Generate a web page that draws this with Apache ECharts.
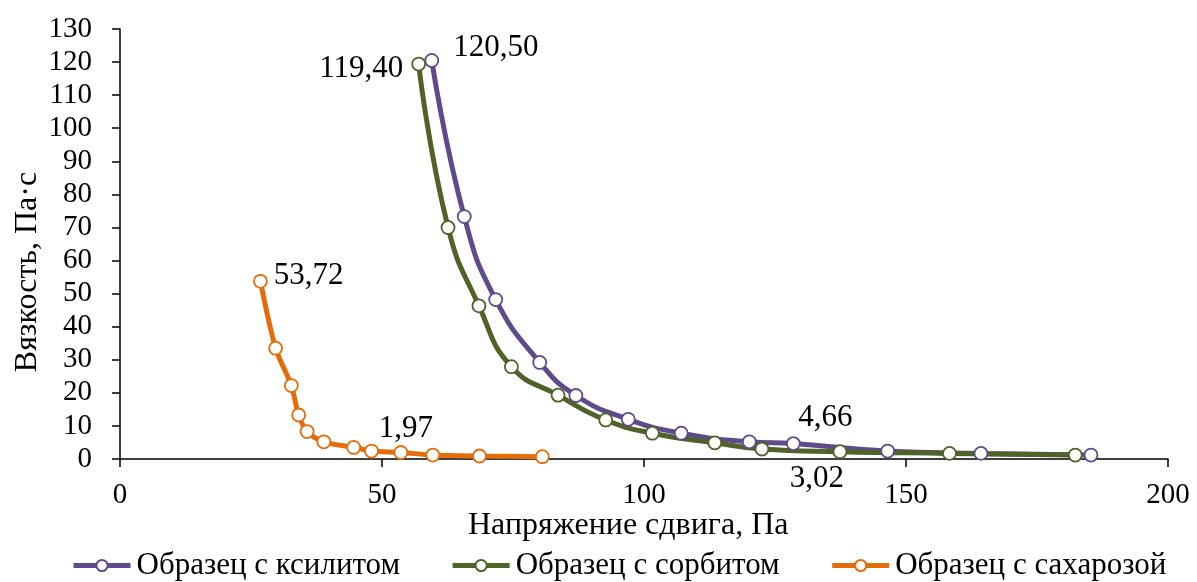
<!DOCTYPE html>
<html><head><meta charset="utf-8">
<script src="https://cdn.jsdelivr.net/npm/echarts@6/dist/echarts.min.js"></script>
<style>html,body{margin:0;padding:0;background:#fff}#c{width:1197px;height:582px}</style>
</head><body><div id="c"></div>
<script>
const seriesNames = ['Образец с ксилитом', 'Образец с сорбитом', 'Образец с сахарозой'];
const xyliX = [59.5, 65.7, 71.7, 80.1, 87.0, 97.0, 107.1, 120.1, 128.5, 146.5, 164.3, 185.3];
const xyliY = [120.5, 73.3, 48.2, 29.2, 19.2, 12.0, 7.8, 5.2, 4.66, 2.4, 1.7, 1.2];
const sorbX = [57.0, 62.6, 68.5, 74.7, 83.6, 92.7, 101.6, 113.5, 122.5, 137.4, 158.3, 182.3];
const sorbY = [119.4, 70.0, 46.3, 27.9, 19.3, 11.8, 7.8, 4.9, 3.02, 2.2, 1.7, 1.2];
const sucrX = [26.8, 29.7, 32.7, 34.1, 35.7, 38.9, 44.6, 48.0, 53.6, 59.7, 68.6, 80.6];
const sucrY = [53.72, 33.5, 22.2, 13.3, 8.3, 5.2, 3.5, 2.4, 1.97, 1.2, 0.9, 0.7];
const xTitle = 'Напряжение сдвига, Па';
const yTitle = 'Вязкость, Па·с';
const colors = ['#5F4B8B', '#4F6228', '#E46C0A'];
const FONT = '"Liberation Serif", "Times New Roman", serif';
const fmt = v => v.toFixed(2).replace('.', ',');

const labelSpecs = [
  {0: {position: 'right', distance: 14, offset: [0, -13]}, 8: {position: 'top', distance: 3, offset: [32, 0]}},
  {0: {position: 'left', distance: 8, offset: [0, 5]}, 8: {position: 'bottom', distance: 7, offset: [55, 0]}},
  {0: {position: 'right', distance: 6, offset: [0, -5]}, 8: {position: 'top', distance: 1, offset: [5, 0]}}
];
function build(xs, ys, spec) {
  return xs.map((x, i) => {
    const d = {value: [x, ys[i]]};
    if (spec[i]) {
      d.label = Object.assign({show: true, formatter: fmt(ys[i]), fontFamily: FONT, fontSize: 31, color: '#000'}, spec[i]);
    }
    return d;
  });
}
const datasets = [[xyliX, xyliY], [sorbX, sorbY], [sucrX, sucrY]];
const smooths = [0.5, 0.5, 0.3];
const chart = echarts.init(document.getElementById('c'));
chart.setOption({
  animation: false,
  color: colors,
  grid: {left: 120, right: 29, top: 29, bottom: 123, containLabel: false},
  textStyle: {fontFamily: FONT},
  graphic: [
    {type: 'text', left: 468, top: 510, style: {text: xTitle, font: '32px ' + FONT, fill: '#000'}},
    {type: 'text', x: 12, y: 272, rotation: Math.PI / 2, style: {text: yTitle, font: '32px ' + FONT, fill: '#000', align: 'center', verticalAlign: 'top'}}
  ],
  xAxis: {
    type: 'value', min: 0, max: 200, interval: 50,
    axisLine: {show: true, onZero: false, lineStyle: {color: '#000', width: 1.5}},
    axisTick: {show: true, length: 8, lineStyle: {color: '#000', width: 1.5}},
    axisLabel: {fontFamily: FONT, fontSize: 29, color: '#000', margin: 22},
    splitLine: {show: false}
  },
  yAxis: {
    type: 'value', min: 0, max: 130, interval: 10,
    axisLine: {show: true, lineStyle: {color: '#000', width: 1.5}},
    axisTick: {show: true, length: 8, lineStyle: {color: '#000', width: 1.5}},
    axisLabel: {fontFamily: FONT, fontSize: 29, color: '#000', margin: 28},
    splitLine: {show: false}
  },
  legend: {
    top: 545, left: 66, itemWidth: 57, itemHeight: 14, itemGap: 50,
    lineStyle: {width: 5},
    textStyle: {fontFamily: FONT, fontSize: 31, color: '#000', padding: [0, 0, 0, 1]},
    data: seriesNames
  },
  series: datasets.map((d, k) => ({
    name: seriesNames[k], type: 'line', smooth: smooths[k],
    symbol: 'circle', symbolSize: 13,
    itemStyle: {color: '#fff', borderColor: colors[k], borderWidth: 1.8},
    lineStyle: {color: colors[k], width: 5},
    data: build(d[0], d[1], labelSpecs[k])
  }))
});
</script></body></html>
